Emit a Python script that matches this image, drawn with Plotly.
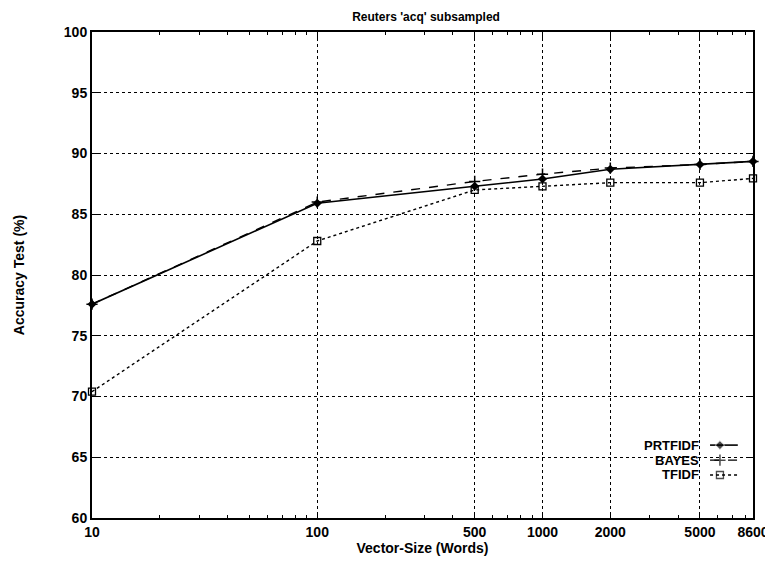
import math
import plotly.graph_objects as go

# ---- data ----
vector_size = [10, 100, 500, 1000, 2000, 5000, 8600]
prtfidf = [77.6, 85.9, 87.3, 87.9, 88.7, 89.1, 89.35]
bayes = [77.6, 86.0, 87.7, 88.3, 88.8, 89.1, 89.35]
tfidf = [70.4, 82.8, 87.0, 87.3, 87.6, 87.6, 87.95]
series_names = ["PRTFIDF", "BAYES", "TFIDF"]
x_ticks = [10, 100, 500, 1000, 2000, 5000, 8600]
y_ticks = [60, 65, 70, 75, 80, 85, 90, 95, 100]
minor_x = [v * m for m in (10, 100, 1000) for v in range(2, 10)]
minor_x = [v for v in minor_x if v not in x_ticks and v <= 8600]

FONT = "Liberation Sans, Arial, Helvetica, sans-serif"
TXT = dict(family=FONT, size=14, color="black", weight="bold")
LEG_TXT = dict(family=FONT, size=13, color="black", weight="bold")

styles = [
    dict(line=dict(color="black", width=1.6, dash="solid"),
         marker=dict(symbol="diamond", size=7, color="black")),
    dict(line=dict(color="black", width=1.4, dash="dash"),
         marker=dict(symbol="cross-thin", size=8, color="black",
                     line=dict(color="black", width=1.5))),
    dict(line=dict(color="black", width=1.4, dash="dot"),
         marker=dict(symbol="square-open", size=7, color="black",
                     line=dict(color="black", width=1.3))),
]

fig = go.Figure()
for name, vals, st in zip(series_names, [prtfidf, bayes, tfidf], styles):
    fig.add_trace(go.Scatter(x=vector_size, y=vals, mode="lines+markers",
                             name=name, showlegend=False, cliponaxis=False, **st))

# ---- manual legend (text left of key, gnuplot style) on overlay axes ----
leg_y = [0.150, 0.119, 0.0885]
key_x = [0.935, 0.950, 0.977]
for name, yy, st in zip(series_names, leg_y, styles):
    fig.add_trace(go.Scatter(x=key_x, y=[yy] * 3, mode="lines+markers",
                             xaxis="x2", yaxis="y2", showlegend=False,
                             hoverinfo="skip",
                             line=st["line"],
                             marker=dict(st["marker"], size=[0, st["marker"]["size"], 0])))
    fig.add_annotation(x=0.921, y=yy, xref="x2", yref="y2", text=name,
                       showarrow=False, xanchor="right", yanchor="middle",
                       font=LEG_TXT)

axis_common = dict(showline=True, linecolor="black", linewidth=2, mirror="allticks",
                   ticks="inside", ticklen=6, tickcolor="black", tickwidth=1,
                   showgrid=True, gridcolor="black", gridwidth=1, griddash="dot",
                   zeroline=False, tickfont=TXT, automargin=False)

# The page body has an 8px margin, so the figure is offset by (8, 8).
fig.update_layout(
    width=765, height=553,
    margin=dict(l=84, r=20, t=24, b=43, autoexpand=False),
    paper_bgcolor="white", plot_bgcolor="white",
    title=dict(text="Reuters 'acq' subsampled", x=0.5465, xanchor="center",
               y=0.992, yanchor="top",
               font=dict(family=FONT, size=12, color="black", weight="bold")),
    xaxis=dict(type="log", range=[1, math.log10(8600)], tickmode="array",
               tickvals=x_ticks, ticktext=[str(v) for v in x_ticks],
               title=dict(text="Vector-Size (Words)", standoff=0, font=TXT),
               minor=dict(tickmode="array", tickvals=minor_x, ticks="inside",
                          ticklen=3, tickcolor="black", showgrid=False),
               **axis_common),
    yaxis=dict(range=[60, 100], tickmode="array", tickvals=y_ticks,
               title=dict(text="Accuracy Test (%)", standoff=36, font=TXT),
               **axis_common),
    xaxis2=dict(range=[0, 1], overlaying="x", visible=False, anchor="y2"),
    yaxis2=dict(range=[0, 1], overlaying="y", visible=False, anchor="x2"),
)

fig.write_html("out.html")
